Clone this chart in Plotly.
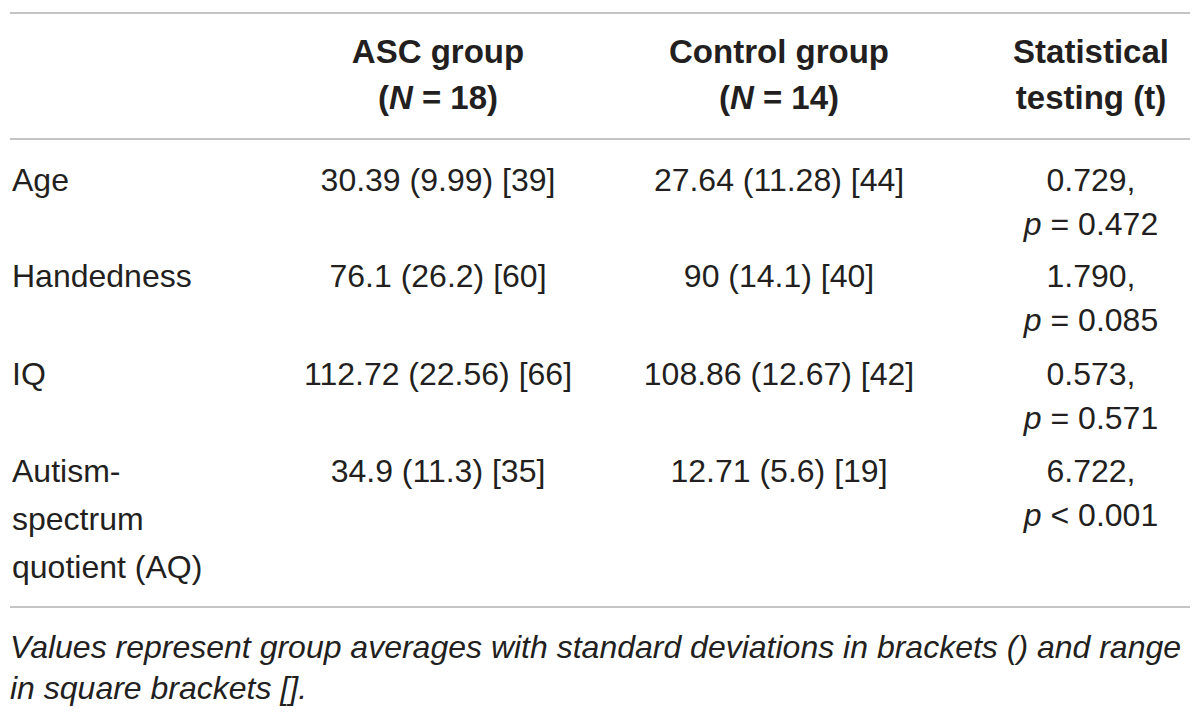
import plotly.graph_objects as go

# table content
col_headers = [["ASC group", "(<i>N</i> = 18)"],
               ["Control group", "(<i>N</i> = 14)"],
               ["Statistical", "testing (t)"]]
row_labels = [["Age"], ["Handedness"], ["IQ"], ["Autism-", "spectrum", "quotient (AQ)"]]
asc_values = ["30.39 (9.99) [39]", "76.1 (26.2) [60]", "112.72 (22.56) [66]", "34.9 (11.3) [35]"]
control_values = ["27.64 (11.28) [44]", "90 (14.1) [40]", "108.86 (12.67) [42]", "12.71 (5.6) [19]"]
t_values = ["0.729,", "1.790,", "0.573,", "6.722,"]
p_values = ["<i>p</i> = 0.472", "<i>p</i> = 0.085", "<i>p</i> = 0.571", "<i>p</i> &lt; 0.001"]
footnote = ["<i>Values represent group averages with standard deviations in brackets () and range</i>",
            "<i>in square brackets [].</i>"]

W, H = 1200, 713
OFF = 8  # page body margin, so axis units line up with window pixels
TXT = "#231f20"
RULE = "#c4c4c4"
FONT = "Liberation Sans, Arial, sans-serif"
FS = 32

col_x = [438, 779, 1091]
head_y = [55, 101]
row_y = [183, 279, 377, 474]
gap = 46
rules_y = [13, 139, 607]

fig = go.Figure()


def add_text(xs, ys, texts, pos="middle center", bold=False, size=FS):
    fig.add_trace(go.Scatter(
        x=xs, y=ys, text=[f"<b>{t}</b>" if bold else t for t in texts],
        mode="text", textposition=pos, hoverinfo="skip", showlegend=False,
        textfont=dict(family=FONT, size=size, color=TXT),
    ))


# header
for cx, lines in zip(col_x, col_headers):
    add_text([cx] * len(lines), head_y[:len(lines)], lines, bold=True, size=33)

# body
for i, y in enumerate(row_y):
    lines = row_labels[i]
    add_text([12] * len(lines), [y + k * 48 for k in range(len(lines))], lines, pos="middle right")
    add_text([col_x[0]], [y], [asc_values[i]])
    add_text([col_x[1]], [y], [control_values[i]])
    add_text([col_x[2], col_x[2]], [y, y + 44], [t_values[i], p_values[i]])

# footnote
add_text([10, 10], [650, 691], footnote, pos="middle right", size=32)

for ry in rules_y:
    fig.add_shape(type="line", x0=10, x1=1190, y0=ry, y1=ry, xref="x", yref="y",
                  line=dict(color=RULE, width=2))

fig.update_layout(
    width=W, height=H,
    margin=dict(l=0, r=0, t=0, b=0),
    paper_bgcolor="white", plot_bgcolor="white",
    xaxis=dict(range=[OFF, W + OFF], visible=False, fixedrange=True),
    yaxis=dict(range=[H + OFF, OFF], visible=False, fixedrange=True),
)

fig.write_html("out.html")
